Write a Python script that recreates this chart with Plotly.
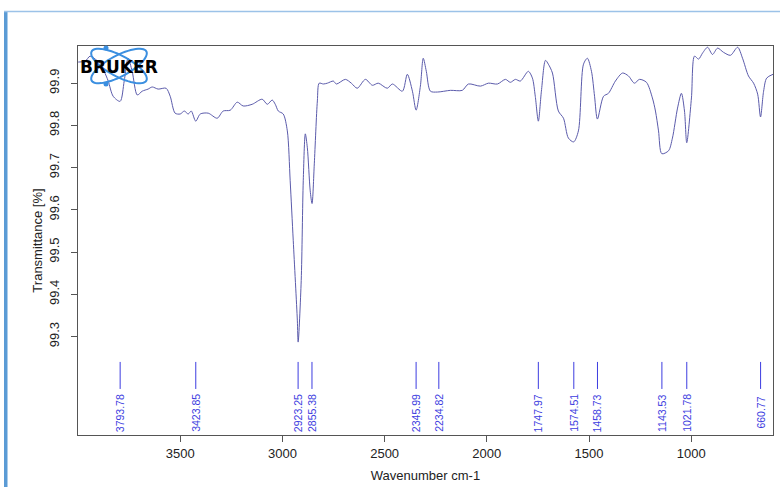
import numpy as np
import plotly.graph_objects as go

# ---------------- data ----------------
wavenumber = [3999, 3965, 3941, 3916, 3892, 3872, 3852, 3828, 3794, 3774, 3755, 3735,
              3710, 3686, 3657, 3637, 3608, 3569, 3549, 3525, 3500, 3480, 3461, 3446,
              3424, 3402, 3363, 3319, 3290, 3255, 3221, 3192, 3148, 3099, 3074, 3050,
              3035, 3020, 2996, 2976, 2962, 2947, 2927, 2923, 2908, 2898, 2888, 2878,
              2864, 2855, 2844, 2829, 2820, 2800, 2780, 2751, 2736, 2692, 2663, 2634,
              2594, 2560, 2531, 2487, 2462, 2413, 2389, 2364, 2346, 2325, 2311, 2296,
              2276, 2242, 2178, 2120, 2090, 2031, 1992, 1948, 1909, 1885, 1860, 1836,
              1797, 1777, 1763, 1748, 1733, 1713, 1699, 1679, 1650, 1625, 1601, 1575,
              1552, 1527, 1508, 1488, 1473, 1459, 1429, 1405, 1371, 1336, 1307, 1278,
              1253, 1219, 1190, 1175, 1160, 1144, 1111, 1092, 1067, 1048, 1033, 1022,
              999, 984, 964, 945, 920, 896, 871, 842, 808, 773, 749, 720, 695, 675,
              661, 646, 631, 600]
transmittance = [99.950, 99.952, 99.964, 99.957, 99.947, 99.928, 99.905, 99.869, 99.857, 99.905, 99.959, 99.928,
                 99.872, 99.881, 99.886, 99.891, 99.886, 99.888, 99.869, 99.829, 99.827, 99.834, 99.827, 99.834,
                 99.810, 99.827, 99.829, 99.817, 99.834, 99.836, 99.855, 99.846, 99.850, 99.862, 99.850, 99.860,
                 99.850, 99.834, 99.827, 99.787, 99.669, 99.527, 99.339, 99.287, 99.433, 99.669, 99.780, 99.747,
                 99.645, 99.615, 99.709, 99.858, 99.900, 99.898, 99.900, 99.905, 99.898, 99.909, 99.900, 99.888,
                 99.909, 99.895, 99.900, 99.888, 99.898, 99.881, 99.921, 99.881, 99.836, 99.893, 99.959, 99.928,
                 99.881, 99.879, 99.883, 99.883, 99.898, 99.893, 99.900, 99.898, 99.909, 99.902, 99.909, 99.905,
                 99.928, 99.912, 99.869, 99.810, 99.881, 99.954, 99.945, 99.924, 99.834, 99.817, 99.770, 99.761,
                 99.787, 99.945, 99.959, 99.928, 99.869, 99.815, 99.869, 99.876, 99.905, 99.924, 99.917, 99.900,
                 99.909, 99.902, 99.865, 99.834, 99.787, 99.733, 99.740, 99.770, 99.841, 99.876, 99.834, 99.759,
                 99.865, 99.964, 99.957, 99.971, 99.985, 99.968, 99.983, 99.973, 99.966, 99.985, 99.959, 99.917,
                 99.900, 99.874, 99.820, 99.881, 99.912, 99.921]

peak_wn = [3793.78, 3423.85, 2923.25, 2855.38, 2345.99, 2234.82, 1747.97,
           1574.51, 1458.73, 1143.53, 1021.78, 660.77]
peak_labels = ["3793.78", "3423.85", "2923.25", "2855.38", "2345.99", "2234.82", "1747.97",
               "1574.51", "1458.73", "1143.53", "1021.78", "660.77"]

x_ticks = [3500, 3000, 2500, 2000, 1500, 1000]
y_ticks = [99.3, 99.4, 99.5, 99.6, 99.7, 99.8, 99.9]

# ---------------- figure ----------------
W, H = 780, 487
L, R, T, B = 78, 7, 46, 52
PW, PH = W - L - R, H - T - B

def px2paper(px, py):
    return (px - L) / PW, (H - B - py) / PH

fig = go.Figure()
fig.add_trace(go.Scatter(x=wavenumber, y=transmittance, mode="lines",
                         line=dict(color="#5b5bab", width=1, shape="spline", smoothing=0.8),
                         hoverinfo="skip", showlegend=False))

shapes = []
annotations = []
for wn, lab in zip(peak_wn, peak_labels):
    shapes.append(dict(type="line", xref="x", yref="y", x0=wn, x1=wn, y0=99.176, y1=99.240,
                       line=dict(color="#3c3ce0", width=1)))
    annotations.append(dict(x=wn, y=99.119, xref="x", yref="y", text=lab, showarrow=False,
                            textangle=-90, xanchor="center", yanchor="middle",
                            font=dict(family="Liberation Sans, Arial", size=10.5, color="#3c3ce0")))

# page frame
x0p, _ = px2paper(4, 0)
x1p, _ = px2paper(7.5, 0)
_, ytop = px2paper(0, 11.5)
_, ybot = px2paper(0, 487)
xr, _ = px2paper(780, 0)
shapes.append(dict(type="rect", xref="paper", yref="paper", x0=x0p, x1=x1p, y0=ybot, y1=ytop,
                   fillcolor="#5b9bd5", line=dict(width=0), layer="above"))
shapes.append(dict(type="line", xref="paper", yref="paper", x0=x0p, x1=xr, y0=ytop, y1=ytop,
                   line=dict(color="#9cc2e8", width=1.5)))

# Bruker logo orbits
cx, cy = 119, 66
tt = np.linspace(0, 2 * np.pi, 60)
for ang in (28, -28):
    a = np.deg2rad(ang)
    ex = 31 * np.cos(tt)
    ey = 10.5 * np.sin(tt)
    pxs = cx + ex * np.cos(a) - ey * np.sin(a)
    pys = cy + ex * np.sin(a) + ey * np.cos(a)
    pts = [px2paper(u, v) for u, v in zip(pxs, pys)]
    path = "M " + " L ".join(f"{u:.5f},{v:.5f}" for u, v in pts) + " Z"
    shapes.append(dict(type="path", xref="paper", yref="paper", path=path,
                       line=dict(color="#3b8fe0", width=2), layer="above"))
for (dx, dy) in [(106, 48), (106, 84)]:
    u0, v0 = px2paper(dx - 2.5, dy - 2.5)
    u1, v1 = px2paper(dx + 2.5, dy + 2.5)
    shapes.append(dict(type="circle", xref="paper", yref="paper", x0=u0, x1=u1, y0=v1, y1=v0,
                       fillcolor="#3b8fe0", line=dict(width=0), layer="above"))
lx, ly = px2paper(119, 67)
annotations.append(dict(x=lx, y=ly, xref="paper", yref="paper", text="<b>BRUKER</b>",
                        showarrow=False, xanchor="center", yanchor="middle",
                        font=dict(family="DejaVu Sans", size=17, color="#000000")))

fig.update_layout(
    width=W, height=H,
    margin=dict(l=L, r=R, t=T, b=B, pad=0),
    paper_bgcolor="white", plot_bgcolor="white",
    font=dict(family="Liberation Sans, Arial", size=13, color="#222222"),
    shapes=shapes, annotations=annotations,
    xaxis=dict(range=[4000, 600], tickvals=x_ticks, ticks="outside", ticklen=6,
               tickcolor="#555555", showgrid=False, zeroline=False,
               showline=True, linecolor="#555555", linewidth=1, mirror=True,
               title=dict(text="Wavenumber cm-1", standoff=11, font=dict(size=13)),
               tickfont=dict(size=13)),
    yaxis=dict(range=[99.067, 99.988], tickvals=y_ticks, ticktext=[f"{v:.1f}" for v in y_ticks],
               ticks="outside", ticklen=6, tickangle=-90, ticklabelstandoff=7,
               tickcolor="#555555", showgrid=False, zeroline=False,
               showline=True, linecolor="#555555", linewidth=1, mirror=True,
               title=dict(text="Transmittance [%]", standoff=1, font=dict(size=13)),
               tickfont=dict(size=13)),
)

fig.write_html("out.html", config={"displayModeBar": False},
               post_script="document.body.style.margin='0';")
